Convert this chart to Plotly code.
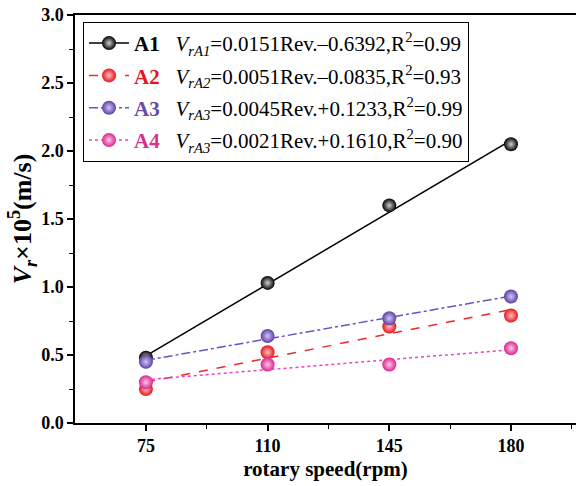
import plotly.graph_objects as go

speed = [75, 110, 145, 180]
A1 = [0.48, 1.03, 1.60, 2.05]
A2 = [0.25, 0.52, 0.71, 0.79]
A3 = [0.45, 0.64, 0.77, 0.93]
A4 = [0.30, 0.43, 0.43, 0.55]

names = ["A1", "A2", "A3", "A4"]
subs = ["rA1", "rA2", "rA3", "rA3"]
slopes = [0.0151, 0.0051, 0.0045, 0.0021]
intercepts = [-0.6392, -0.0835, 0.1233, 0.1610]
r2 = ["0.99", "0.93", "0.99", "0.90"]
eq_text = ["0.0151Rev.–0.6392", "0.0051Rev.–0.0835", "0.0045Rev.+0.1233", "0.0021Rev.+0.1610"]

series = [A1, A2, A3, A4]
colors = ["#000000", "#e8141c", "#5e40a0", "#d82890"]
line_colors = ["#000000", "#f02828", "#7050c8", "#f040c0"]
label_colors = ["#000000", "#e8141c", "#6a4aa8", "#d6338f"]
centers = ["#d0d0d0", "#ffc0c0", "#d0c4ff", "#ffc4e8"]
dashes = ["solid", "dash", "dashdot", "dot"]

FONT = "Liberation Serif, Times New Roman, serif"

fig = go.Figure()
for i in range(4):
    xfit = [speed[0], speed[-1]]
    yfit = [slopes[i] * x + intercepts[i] for x in xfit]
    fig.add_trace(go.Scatter(x=xfit, y=yfit, mode="lines", showlegend=False,
                             line=dict(color=line_colors[i], width=1.5, dash=dashes[i]),
                             hoverinfo="skip"))
    fig.add_trace(go.Scatter(x=speed, y=series[i], mode="markers", showlegend=False,
                             marker=dict(size=14, color=colors[i],
                                         gradient=dict(type="radial", color=centers[i]),
                                         line=dict(width=0))))
for i in range(4):
    label = (f"<span style='color:{label_colors[i]}'><b>{names[i]}</b></span>&nbsp;&nbsp; "
             f"<i>V</i><sub><i>{subs[i]}</i></sub>={eq_text[i]},R<sup>2</sup>={r2[i]}")
    fig.add_trace(go.Scatter(x=[None], y=[None], mode="lines+markers", name=label,
                             legendgroup=f"g{i}",
                             line=dict(color=line_colors[i], width=1.5, dash=dashes[i]),
                             marker=dict(size=14, color=colors[i],
                                         gradient=dict(type="radial", color=centers[i]),
                                         line=dict(width=0))))

fig.update_layout(
    width=576, height=486,
    margin=dict(l=75, r=0, t=15, b=63),
    paper_bgcolor="white", plot_bgcolor="white",
    font=dict(family=FONT, color="black", size=16),
    legend=dict(x=0.016, y=0.983, xanchor="left", yanchor="top",
                bordercolor="black", borderwidth=1, bgcolor="white",
                font=dict(family=FONT, size=21, color="black"),
                tracegroupgap=2, traceorder="grouped", itemwidth=40),
    xaxis=dict(range=[54.6, 198.7], tickvals=speed, ticktext=[str(s) for s in speed],
               automargin=False,
               showgrid=False, zeroline=False, showline=True, linecolor="black", linewidth=1.5,
               mirror=True, ticks="outside", ticklen=6, tickwidth=1.5, tickcolor="black",
               minor=dict(tickvals=[92.5, 127.5, 162.5, 197.5], ticks="outside", ticklen=4,
                          tickwidth=1.2, tickcolor="black"),
               tickfont=dict(family=FONT, size=18, color="black", weight="bold"),
               title=dict(text="<b>rotary speed(rpm)</b>", font=dict(family=FONT, size=21),
                          standoff=6)),
    yaxis=dict(range=[0, 3.0], tickvals=[0, 0.5, 1.0, 1.5, 2.0, 2.5, 3.0], tickformat=".1f",
               automargin=False, ticklabeloverflow="allow",
               showgrid=False, zeroline=False, showline=True, linecolor="black", linewidth=1.5,
               ticks="outside", ticklen=6, tickwidth=1.5, tickcolor="black",
               minor=dict(tickvals=[0.25, 0.75, 1.25, 1.75, 2.25, 2.75], ticks="outside",
                          ticklen=4, tickwidth=1.2, tickcolor="black"),
               tickfont=dict(family=FONT, size=18, color="black", weight="bold"),
               title=dict(text="<b><i>V</i><sub><i>r</i></sub>×10<sup>5</sup>(m/s)</b>",
                          font=dict(family=FONT, size=26), standoff=2)),
)

fig.write_html("out.html", config={"displayModeBar": False},
               post_script="document.body.style.margin='0';document.body.style.overflow='hidden';")
